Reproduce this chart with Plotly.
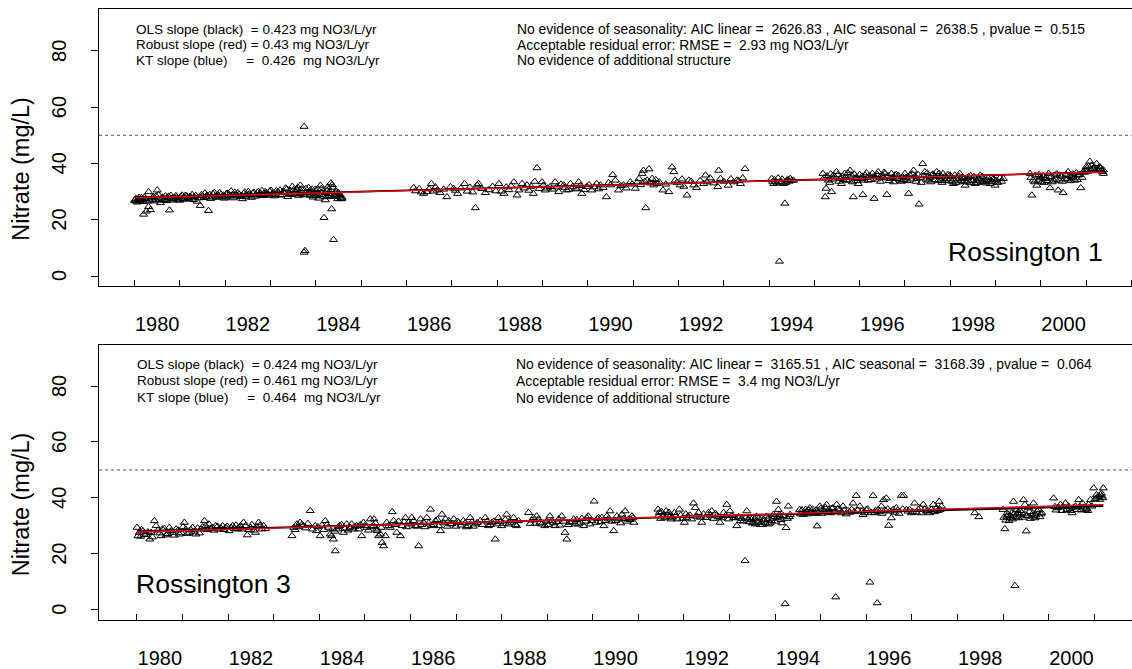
import plotly.graph_objects as go

# ---------------- data (decimal year, nitrate mg/L) ----------------
r1_year = [
 1980.00,1980.03,1980.06,1980.10,1980.13,1980.17,1980.20,1980.22,1980.26,1980.28,1980.31,1980.31,1980.35,1980.38,
 1980.42,1980.46,1980.50,1980.53,1980.57,1980.60,1980.64,1980.68,1980.72,1980.77,1980.80,1980.84,1980.88,1980.93,
 1980.97,1981.02,1981.07,1981.12,1981.17,1981.22,1981.27,1981.32,1981.38,1981.45,1981.50,1981.55,1981.60,1981.63,
 1981.68,1981.73,1981.78,1981.83,1981.88,1981.93,1981.98,1982.03,1982.08,1982.13,1982.18,1982.23,1982.28,1982.33,
 1982.38,1982.43,1982.48,1982.53,1982.58,1982.63,1982.68,1982.73,1982.78,1982.83,1982.88,1982.93,1982.98,1983.03,
 1983.08,1983.13,1983.18,1983.23,1983.28,1983.33,1983.38,1983.43,1983.48,1983.53,1983.58,1983.62,1983.66,1983.70,
 1983.74,1983.74,1983.76,1983.78,1983.82,1983.86,1983.90,1983.94,1983.98,1984.02,1984.06,1984.10,1984.14,1984.18,
 1984.21,1984.24,1984.27,1984.30,1984.33,1984.35,1984.37,1984.39,1984.41,1984.44,1984.48,1984.52,1984.55,1984.58,
 1986.16,1986.38,1986.45,1986.55,1986.60,1986.68,1986.89,1986.97,1987.04,1987.13,1987.28,1987.34,1987.52,1987.56,
 1987.59,1987.74,1988.04,1988.09,1988.15,1988.37,1988.44,1988.48,1988.55,1988.66,1988.80,1988.83,1988.88,1988.99,
 1989.06,1989.17,1989.28,1989.36,1989.47,1989.54,1989.62,1989.73,1989.80,1989.87,1989.98,1990.09,1990.20,1990.28,
 1990.41,1990.50,1990.55,1990.61,1990.68,1990.79,1990.94,1991.05,1991.13,1991.20,1991.23,1991.28,1991.31,1991.35,
 1991.42,1991.46,1991.53,1991.66,1991.79,1991.86,1991.90,1991.93,1992.04,1992.19,1992.23,1992.34,1992.56,1992.60,
 1992.63,1992.87,1992.89,1992.93,1993.22,1993.29,1993.37,1993.47,
 1994.06,1994.10,1994.14,1994.23,1994.32,1994.35,1994.39,1994.47,1994.54,
 1995.19,1995.24,1995.26,1995.31,1995.38,1995.42,1995.49,1995.57,1995.60,1995.67,1995.71,1995.79,1995.86,1995.90,
 1995.97,1996.07,1996.12,1996.19,1996.32,1996.34,1996.41,1996.49,1996.56,1996.60,1996.67,1996.78,1996.89,1997.00,
 1997.08,1997.11,1997.19,1997.26,1997.31,1997.39,1997.44,1997.52,1997.59,1997.70,1997.77,1997.84,1997.92,1997.99,
 1998.07,1998.14,1998.21,1998.29,1998.33,1998.40,1998.47,1998.55,1998.62,1998.66,1998.73,1998.80,1998.88,1998.95,
 1998.99,1999.02,1999.17,
 1999.76,1999.80,1999.83,1999.91,1999.98,2000.02,2000.09,2000.17,2000.20,2000.28,2000.38,2000.42,2000.49,2000.53,
 2000.60,2000.67,2000.75,2000.82,2000.88,2000.93,2001.00,2001.08,2001.12,2001.15,2001.23,2001.26,2001.30,2001.34,
 2001.38,
 # further samples
 1980.01,1980.04,1980.08,1980.11,1980.15,1980.18,1980.24,1980.33,1980.40,1980.44,1980.48,1980.55,1980.62,1980.66,
 1980.70,1980.75,1980.82,1980.86,1980.91,1980.95,1981.00,1981.05,1981.10,1981.15,1981.20,1981.25,1981.30,1981.35,
 1981.42,1981.48,1981.53,1981.58,1981.66,1981.71,1981.76,1981.81,1981.86,1981.91,1981.96,1982.01,1982.06,1982.11,
 1982.16,1982.21,1982.26,1982.31,1982.36,1982.41,1982.46,1982.51,1982.56,1982.61,1982.66,1982.71,1982.76,1982.81,
 1982.86,1982.91,1982.96,1983.01,1983.06,1983.11,1983.16,1983.21,1983.26,1983.31,1983.36,1983.41,1983.46,1983.51,
 1983.56,1983.60,1983.64,1983.68,1983.72,1983.80,1983.84,1983.88,1983.92,1983.96,1984.00,1984.04,1984.08,1984.12,
 1984.16,1984.20,1984.23,1984.26,1984.29,1984.32,1984.36,1984.40,1984.43,1984.46,1984.50,1984.54,1984.57,
 1986.20,1986.28,1986.33,1986.50,1986.64,1986.74,1986.82,1987.08,1987.20,1987.40,1987.46,1987.66,1987.82,1987.90,
 1987.97,1988.20,1988.26,1988.31,1988.60,1988.70,1988.75,1988.93,1989.02,1989.11,1989.22,1989.32,1989.41,1989.50,
 1989.58,1989.67,1989.76,1989.84,1989.92,1990.03,1990.14,1990.24,1990.34,1990.46,1990.73,1990.85,1990.98,1991.09,
 1991.17,1991.26,1991.38,1991.50,1991.58,1991.72,1991.97,1992.08,1992.12,1992.28,1992.40,1992.48,1992.70,1992.78,
 1993.00,1993.10,1993.16,1993.33,1993.42,
 1994.08,1994.12,1994.18,1994.20,1994.26,1994.29,1994.37,1994.42,1994.44,1994.50,
 1995.21,1995.28,1995.34,1995.36,1995.40,1995.45,1995.52,1995.54,1995.62,1995.64,1995.69,1995.74,1995.76,1995.82,
 1995.84,1995.88,1995.93,1995.95,1996.00,1996.03,1996.05,1996.10,1996.15,1996.17,1996.22,1996.25,1996.28,1996.30,
 1996.37,1996.39,1996.44,1996.46,1996.52,1996.54,1996.63,1996.65,1996.70,1996.73,1996.75,1996.81,1996.84,1996.86,
 1996.92,1996.95,1996.97,1997.03,1997.05,1997.14,1997.16,1997.22,1997.24,1997.29,1997.34,1997.36,1997.42,1997.47,
 1997.49,1997.55,1997.57,1997.62,1997.65,1997.67,1997.73,1997.75,1997.80,1997.82,1997.87,1997.89,1997.95,1997.97,
 1998.02,1998.04,1998.10,1998.12,1998.17,1998.19,1998.24,1998.26,1998.31,1998.36,1998.38,1998.43,1998.45,1998.50,
 1998.52,1998.58,1998.60,1998.64,1998.69,1998.71,1998.76,1998.78,1998.84,1998.86,1998.91,1998.93,1998.97,1999.05,
 1999.10,1999.13,
 1999.78,1999.86,1999.88,1999.94,1999.96,2000.00,2000.05,2000.07,2000.12,2000.14,2000.22,2000.25,2000.31,2000.33,
 2000.35,2000.40,2000.45,2000.47,2000.56,2000.58,2000.63,2000.65,2000.70,2000.72,2000.78,2000.80,2000.85,2000.91,
 2000.96,2000.98,2001.03,2001.05,2001.10,2001.18,2001.20,2001.28,2001.32,2001.36,2001.38]
r1_no3 = [
 26.8,27.5,26.2,27.9,26.9,27.2,21.9,28.0,23.0,26.5,24.6,29.9,23.5,27.3,
 28.2,27.0,30.5,28.8,26.0,27.6,26.8,28.4,27.9,23.4,28.6,27.3,27.8,28.1,
 27.0,28.3,27.5,28.6,27.8,28.2,28.9,28.0,26.5,25.0,28.5,29.4,28.7,23.2,
 27.5,29.2,28.3,28.8,29.6,28.1,27.6,29.3,28.6,30.2,27.7,28.8,29.5,28.2,
 27.4,29.8,28.7,29.1,27.9,29.7,28.9,30.0,29.3,28.5,29.9,29.2,30.1,29.0,
 28.4,30.3,29.6,28.7,29.9,31.2,28.2,30.4,31.8,29.1,30.8,28.6,32.2,29.5,
 53.1,8.4,9.0,31.0,28.9,30.2,29.4,28.0,30.7,29.1,27.6,32.2,29.8,20.7,
 27.0,30.5,28.4,29.9,33.0,23.8,31.5,12.9,28.9,30.3,27.4,28.8,27.5,27.9,
 31.4,29.3,29.9,32.8,30.1,30.5,28.1,31.7,31.1,29.3,32.8,30.1,24.2,32.3,
 32.8,29.6,32.8,30.1,29.3,33.4,28.7,30.5,32.8,32.3,29.3,33.6,38.4,33.4,
 30.5,31.7,33.4,29.9,32.3,30.5,32.8,31.1,33.4,29.3,31.7,30.5,32.8,32.3,
 28.1,32.3,36.0,34.0,30.5,32.3,33.4,31.1,34.6,36.4,37.5,24.2,34.0,38.0,
 34.6,32.3,32.8,30.5,29.9,38.7,37.0,34.0,32.3,28.7,34.0,32.3,32.8,35.8,
 33.4,31.7,37.5,34.6,33.4,34.0,32.8,38.1,
 34.6,32.8,33.4,5.2,32.8,25.8,34.0,34.6,34.0,
 36.4,28.1,31.1,34.0,29.9,35.8,37.0,34.6,32.8,36.4,34.0,37.5,28.1,34.6,
 32.8,28.9,35.8,34.0,27.5,35.2,37.0,35.8,36.4,28.9,34.6,35.8,34.0,36.4,
 29.3,35.8,37.5,34.6,25.5,39.9,37.0,34.0,35.8,37.0,35.2,36.4,34.6,35.8,
 32.8,34.6,36.4,33.4,32.2,35.2,34.0,32.8,34.6,35.8,33.4,34.0,32.8,34.6,
 32.2,34.0,34.6,
 36.4,28.7,34.0,32.2,35.2,33.4,34.6,36.4,31.3,34.0,30.5,35.8,29.6,34.6,
 37.0,35.2,34.0,35.8,31.3,37.0,38.8,40.7,39.3,38.1,39.9,37.5,38.8,37.5,
 36.4,
 # further samples
 27.0,26.5,27.3,26.7,27.8,26.4,27.4,26.9,27.9,26.6,28.4,27.2,28.0,27.1,
 26.7,28.3,27.5,26.9,28.5,27.6,26.9,28.7,27.2,28.4,27.4,28.0,27.1,28.6,
 27.7,28.9,27.8,28.2,28.9,28.0,29.6,27.9,28.4,29.0,28.7,28.0,29.4,28.3,
 28.9,29.7,28.4,29.0,28.6,29.3,28.1,30.0,28.8,29.4,28.3,29.6,28.7,30.3,
 28.9,29.5,28.6,30.4,29.4,28.8,29.9,30.5,28.9,29.6,30.9,29.3,28.9,30.6,
 29.8,31.5,29.2,30.9,28.8,29.7,31.4,28.6,30.8,29.5,28.5,30.9,28.9,31.0,
 28.3,29.6,28.1,31.6,29.2,28.6,32.4,28.2,29.5,28.6,29.6,28.4,27.4,
 30.2,31.0,29.8,30.9,31.6,29.6,30.8,30.4,31.2,31.5,29.8,31.0,30.6,31.8,
 30.2,31.6,30.6,32.0,31.2,30.4,31.8,31.0,32.2,31.2,30.8,31.6,32.6,31.4,
 30.7,31.8,30.9,32.1,30.6,32.4,31.6,30.9,31.4,33.1,32.0,31.2,32.6,33.2,
 32.4,33.6,33.0,34.2,33.4,32.6,33.2,34.4,31.8,33.6,31.4,33.9,34.8,33.0,
 33.6,32.2,34.5,33.8,34.8,
 33.6,34.2,33.0,34.8,33.4,34.4,33.2,34.2,33.6,33.9,
 34.8,35.6,33.2,36.2,34.4,35.2,36.0,33.6,35.4,34.2,35.0,36.6,34.0,35.8,
 33.4,36.2,35.0,33.8,36.0,34.6,35.4,34.0,36.6,35.0,35.6,34.2,36.4,35.2,
 34.4,36.0,35.0,33.6,34.8,36.8,35.6,33.8,36.4,35.0,33.4,36.0,34.6,35.6,
 33.6,35.2,34.2,35.0,33.8,34.4,36.2,35.4,33.6,36.0,35.0,33.2,35.6,34.4,
 36.6,35.0,33.4,36.2,34.2,35.4,33.8,36.4,34.4,33.2,35.2,33.8,36.0,34.0,
 35.4,33.6,35.8,33.2,34.0,35.4,33.8,35.0,34.6,33.6,34.8,33.2,35.6,33.8,
 35.2,34.0,33.2,34.6,33.6,35.2,34.0,33.0,34.8,33.6,35.0,33.4,34.2,33.2,
 34.8,33.6,
 35.0,33.4,35.8,34.0,36.0,34.8,35.6,33.2,35.0,33.8,35.2,33.4,35.8,34.4,
 36.2,34.0,35.4,33.6,36.0,34.4,35.6,33.8,36.2,34.8,36.6,34.2,36.0,35.0,
 36.8,37.8,37.2,39.0,37.8,38.6,37.4,37.8,38.2,37.0,37.6]

r3_year = [
 1980.00,1980.02,1980.13,1980.20,1980.28,1980.31,1980.38,1980.42,1980.50,1980.56,1980.64,1980.71,1980.78,1980.86,
 1980.93,1981.04,1981.07,1981.15,1981.22,1981.29,1981.40,1981.48,1981.51,1981.58,1981.66,1981.73,1981.80,1981.88,
 1981.95,1982.02,1982.10,1982.20,1982.27,1982.34,1982.42,1982.49,1982.60,1982.67,1982.74,1982.78,
 1983.40,1983.44,1983.51,1983.58,1983.65,1983.80,1983.91,1983.94,1984.02,1984.13,1984.20,1984.24,1984.27,1984.31,
 1984.35,1984.38,1984.45,1984.53,1984.60,1984.67,1984.75,1984.82,1984.93,1984.97,1985.04,1985.12,1985.19,1985.20,
 1985.26,1985.27,1985.30,1985.34,1985.38,1985.41,1985.45,1985.52,1985.60,1985.63,1985.70,1985.78,1985.82,1985.89,
 1985.96,1986.03,1986.11,1986.18,1986.22,1986.29,1986.36,1986.44,1986.47,1986.55,1986.66,1986.69,1986.77,1986.88,
 1986.95,1987.06,1987.16,1987.27,1987.31,1987.42,1987.53,1987.64,1987.71,1987.79,1987.86,1987.93,1988.00,1988.11,
 1988.18,1988.26,1988.33,1988.59,1988.70,1988.77,1988.84,1988.95,1989.06,1989.17,1989.25,1989.32,1989.39,1989.43,
 1989.50,1989.58,1989.69,1989.80,1989.90,1989.94,1990.03,1990.13,1990.24,1990.31,1990.38,1990.46,1990.53,1990.64,
 1990.71,1990.79,1990.86,1990.90,
 1991.43,1991.46,1991.53,1991.61,1991.72,1991.79,1991.90,1992.01,1992.09,1992.21,1992.25,1992.32,1992.39,1992.47,
 1992.54,1992.61,1992.72,1992.79,1992.87,1992.94,1993.01,1993.09,1993.16,1993.34,1993.38,1993.41,1993.45,1993.52,
 1993.59,1993.67,1993.74,1993.81,1993.89,1993.96,1994.03,1994.07,1994.11,1994.15,1994.22,1994.24,1994.29,1994.33,
 1994.54,1994.62,1994.69,1994.76,1994.84,1994.92,1994.98,1995.05,1995.13,1995.20,1995.27,1995.33,1995.35,1995.42,
 1995.49,1995.71,1995.78,1995.86,1995.93,1996.00,1996.08,1996.15,1996.18,1996.24,1996.26,1996.33,1996.38,1996.44,
 1996.49,1996.55,1996.59,1996.66,1996.77,1996.82,1996.88,1996.99,1997.06,1997.14,1997.25,1997.32,1997.39,1997.47,
 1997.54,1997.60,1997.65,
 1998.38,1998.47,
 1999.00,1999.04,1999.08,1999.11,1999.15,1999.19,1999.23,1999.26,1999.30,1999.34,1999.41,1999.45,1999.48,1999.51,
 1999.56,1999.63,1999.67,1999.70,1999.78,1999.85,
 2000.11,2000.19,2000.26,2000.37,2000.44,2000.52,2000.59,2000.66,2000.74,2000.81,2000.88,2000.92,2000.99,2001.05,
 2001.10,2001.14,2001.17,2001.20,
 # further samples
 1980.05,1980.08,1980.10,1980.16,1980.24,1980.34,1980.46,1980.53,1980.60,1980.68,1980.75,1980.82,1980.90,1980.97,
 1981.01,1981.10,1981.18,1981.26,1981.33,1981.37,1981.44,1981.55,1981.62,1981.69,1981.77,1981.84,1981.91,1981.98,
 1982.06,1982.14,1982.17,1982.24,1982.31,1982.38,1982.45,1982.52,1982.56,1982.63,1982.70,1982.82,
 1983.47,1983.54,1983.62,1983.70,1983.75,1983.85,1983.97,1984.06,1984.10,1984.17,1984.29,1984.34,1984.42,1984.49,
 1984.56,1984.63,1984.71,1984.78,1984.86,1984.90,1985.00,1985.08,1985.15,1985.23,1985.36,1985.48,1985.56,1985.66,
 1985.74,1985.86,1985.92,1986.00,1986.07,1986.14,1986.25,1986.32,1986.40,1986.51,1986.59,1986.62,1986.73,1986.81,
 1986.84,1986.91,1987.00,1987.03,1987.11,1987.20,1987.23,1987.35,1987.38,1987.47,1987.58,1987.68,1987.75,1987.83,
 1987.90,1987.97,1988.04,1988.08,1988.15,1988.22,1988.30,1988.37,1988.63,1988.66,1988.74,1988.81,1988.88,1988.99,
 1989.02,1989.10,1989.14,1989.21,1989.28,1989.36,1989.46,1989.54,1989.62,1989.65,1989.73,1989.76,1989.84,1989.87,
 1989.98,1990.07,1990.10,1990.17,1990.20,1990.27,1990.34,1990.42,1990.50,1990.57,1990.61,1990.68,1990.75,1990.82,
 1990.88,
 1991.44,1991.49,1991.51,1991.56,1991.58,1991.64,1991.67,1991.70,1991.75,1991.82,1991.86,1991.93,1991.97,1992.04,
 1992.06,1992.13,1992.17,1992.28,1992.36,1992.43,1992.50,1992.58,1992.65,1992.69,1992.76,1992.83,1992.91,1992.98,
 1993.05,1993.13,1993.20,1993.24,1993.27,1993.30,1993.36,1993.43,1993.48,1993.50,1993.55,1993.57,1993.62,1993.64,
 1993.70,1993.72,1993.77,1993.79,1993.84,1993.86,1993.92,1993.94,1993.99,1994.01,1994.05,1994.09,1994.13,1994.18,
 1994.27,1994.31,
 1994.56,1994.59,1994.65,1994.67,1994.72,1994.74,1994.80,1994.82,1994.88,1994.90,1994.95,1995.00,1995.03,1995.08,
 1995.10,1995.16,1995.18,1995.23,1995.25,1995.30,1995.38,1995.45,1995.52,1995.56,1995.60,1995.64,1995.68,1995.74,
 1995.81,1995.90,1995.97,1996.03,1996.11,1996.20,1996.29,1996.35,1996.41,1996.47,1996.52,1996.62,1996.69,1996.72,
 1996.80,1996.92,1996.95,1997.02,1997.10,1997.18,1997.21,1997.28,1997.35,1997.43,1997.50,1997.57,1997.62,
 1999.02,1999.06,1999.09,1999.13,1999.17,1999.21,1999.24,1999.28,1999.32,1999.36,1999.38,1999.43,1999.47,1999.53,
 1999.58,1999.60,1999.65,1999.72,1999.75,1999.81,1999.83,
 2000.14,2000.16,2000.22,2000.29,2000.32,2000.40,2000.47,2000.49,2000.55,2000.62,2000.69,2000.71,2000.77,2000.84,
 2000.86,2000.95,2001.02,2001.07,2001.12,2001.16,2001.19]
r3_no3 = [
 29.4,26.4,28.2,27.0,25.2,27.6,31.8,30.0,27.4,28.8,26.7,29.4,27.6,28.8,
 27.0,31.2,28.8,27.6,29.4,27.0,28.8,31.8,30.0,30.6,29.4,30.0,28.8,30.0,
 29.4,28.2,30.0,28.8,30.0,31.2,26.7,29.4,27.6,31.2,28.8,30.0,
 26.4,29.4,30.6,31.2,30.0,35.4,30.0,28.2,26.4,31.8,29.4,27.0,26.4,25.2,
 21.0,28.8,30.0,27.6,30.6,29.4,28.8,30.0,26.4,31.2,29.4,32.4,30.0,32.4,
 28.8,28.2,26.4,27.0,24.0,22.8,26.4,30.0,35.0,31.8,27.6,26.4,30.0,32.9,
 31.2,32.9,30.0,22.8,32.4,31.2,32.9,35.9,30.0,31.8,28.2,34.1,32.4,30.6,
 32.4,31.2,31.8,30.0,32.9,30.6,31.8,32.9,30.0,31.2,25.2,32.9,30.0,34.1,
 31.8,32.9,30.0,34.7,32.9,33.5,31.2,30.0,33.5,30.0,32.4,33.5,27.6,25.2,
 31.2,32.4,30.6,30.0,33.5,30.6,38.8,32.9,30.0,33.5,35.3,28.2,33.5,34.1,
 35.3,32.4,33.5,31.2,
 35.9,34.7,33.5,35.3,32.4,34.7,35.9,31.2,33.5,38.1,36.5,34.7,31.2,32.9,
 34.7,35.3,33.5,31.2,34.7,37.6,35.3,32.9,30.0,17.5,35.3,32.4,32.9,31.0,
 33.4,30.4,32.2,33.4,31.0,34.0,38.7,35.8,33.4,31.0,2.1,29.3,37.0,34.0,
 35.8,34.0,35.2,36.4,34.6,29.9,37.0,35.8,37.6,35.2,36.4,4.5,37.6,35.8,
 37.0,38.1,40.8,37.0,34.0,35.8,9.8,40.8,34.6,2.4,35.8,37.0,39.3,39.9,
 30.1,32.8,35.8,36.4,40.8,40.8,35.8,34.6,38.1,35.8,37.6,35.2,34.6,37.6,
 36.4,38.7,37.0,
 34.6,33.2,
 35.8,28.9,33.4,34.0,32.8,34.6,38.7,8.6,35.8,32.8,34.6,39.3,37.6,28.1,
 36.4,33.4,38.1,32.8,35.8,34.6,
 39.9,36.4,37.6,38.1,37.0,34.6,37.0,39.3,38.1,35.8,37.6,39.3,43.5,41.1,
 40.6,41.1,40.6,43.5,
 # further samples
 27.6,26.2,28.6,26.8,27.8,26.0,28.4,26.4,29.0,27.2,28.2,26.6,28.4,27.6,
 29.6,27.2,28.6,28.0,29.2,27.4,29.6,28.6,29.0,28.4,29.8,29.2,28.6,29.8,
 29.4,29.0,30.2,29.4,28.8,30.0,28.6,30.4,28.4,29.6,30.2,29.0,
 28.6,29.6,30.4,29.2,30.8,28.8,29.6,30.2,28.6,30.4,29.0,28.0,29.6,30.4,
 29.0,28.4,30.6,29.6,28.8,30.4,30.0,28.4,29.6,31.0,29.4,31.2,29.4,30.4,
 31.6,31.4,29.6,30.6,31.8,29.8,30.4,29.6,31.0,30.4,32.2,30.0,31.0,29.8,
 31.8,30.8,29.8,31.6,30.2,31.0,29.6,31.4,29.8,31.2,30.4,31.6,30.4,31.6,
 30.6,31.4,30.8,32.2,30.6,31.2,30.4,31.8,30.8,32.0,30.8,32.4,30.6,31.6,
 30.4,31.8,31.0,31.4,30.2,31.6,30.4,31.4,30.6,32.2,31.2,32.6,31.6,32.8,
 31.8,31.2,32.6,31.4,33.0,31.8,32.4,31.6,31.8,32.4,31.0,32.6,31.6,32.2,
 32.8,
 33.6,32.6,35.0,34.0,32.8,33.8,34.8,33.4,33.0,33.6,32.4,33.8,32.6,34.2,
 32.8,33.8,32.4,33.4,33.0,34.2,33.0,33.8,32.6,34.4,33.2,32.8,33.6,32.4,
 33.6,32.8,33.2,31.8,32.6,31.6,33.0,31.4,32.2,31.0,32.4,30.6,31.6,32.8,
 31.2,30.4,32.0,31.0,32.4,30.6,31.8,32.6,33.2,31.6,32.8,34.0,32.2,33.6,
 32.6,33.2,
 34.2,35.6,34.6,35.8,34.2,35.6,34.8,36.0,34.4,35.6,34.8,36.2,34.4,35.2,
 36.6,34.8,35.8,34.6,36.2,35.0,36.0,34.6,35.6,34.2,35.4,34.8,35.8,35.0,
 35.6,35.2,34.6,36.0,34.8,35.4,35.0,34.4,35.6,36.0,35.2,34.8,35.6,34.4,
 36.0,35.2,35.8,35.0,34.8,36.4,34.6,36.0,35.4,35.8,35.0,35.4,35.8,
 33.0,32.0,34.6,31.8,33.6,32.4,34.2,33.2,34.6,33.8,35.4,33.0,34.2,33.6,
 35.0,32.6,34.4,33.8,35.2,33.2,34.2,
 36.8,35.6,36.6,35.4,36.8,35.8,36.2,35.4,36.6,35.8,36.8,35.6,36.6,36.2,
 35.4,37.0,39.6,40.2,39.4,41.6,40.0]

# fitted trend lines: value at start of record and slope (mg/L per yr)
r1_span = [1980.0, 2001.38]
r1_fit = {"ols": (27.9, 0.423), "robust": (27.75, 0.43), "kt": (27.8, 0.426)}
r3_span = [1980.0, 2001.2]
r3_fit = {"ols": (28.1, 0.424), "robust": (27.8, 0.461), "kt": (27.78, 0.464)}

limit = 50
year_ticks = list(range(1980, 2003))
label_years = list(range(1980, 2001, 2))
y_ticks = [0, 20, 40, 60, 80]

r1_text_left = ["OLS slope (black)  = 0.423 mg NO3/L/yr",
                "Robust slope (red) = 0.43 mg NO3/L/yr",
                "KT slope (blue)     =  0.426  mg NO3/L/yr"]
r1_text_right = ["No evidence of seasonality: AIC linear =  2626.83 , AIC seasonal =  2638.5 , pvalue =  0.515",
                 "Acceptable residual error: RMSE =  2.93 mg NO3/L/yr",
                 "No evidence of additional structure"]
r3_text_left = ["OLS slope (black)  = 0.424 mg NO3/L/yr",
                "Robust slope (red) = 0.461 mg NO3/L/yr",
                "KT slope (blue)     =  0.464  mg NO3/L/yr"]
r3_text_right = ["No evidence of seasonality: AIC linear =  3165.51 , AIC seasonal =  3168.39 , pvalue =  0.064",
                 "Acceptable residual error: RMSE =  3.4 mg NO3/L/yr",
                 "No evidence of additional structure"]

FONT = "Liberation Sans, Arial, sans-serif"

fig = go.Figure()

def add_panel(xs, ys, span, fit, xa, ya):
    fig.add_trace(go.Scatter(x=xs, y=ys, mode="markers", xaxis=xa, yaxis=ya,
                             marker=dict(symbol="triangle-up-open", size=7, color="black",
                                         line=dict(width=1, color="black")),
                             hoverinfo="skip"))
    for key, col, w in [("kt", "blue", 0.8), ("ols", "black", 1.8), ("robust", "red", 1.3)]:
        a, b = fit[key]
        fig.add_trace(go.Scatter(x=span, y=[a, a + b * (span[1] - span[0])], mode="lines",
                                 xaxis=xa, yaxis=ya, line=dict(color=col, width=w),
                                 hoverinfo="skip"))

add_panel(r1_year, r1_no3, r1_span, r1_fit, "x", "y")
add_panel(r3_year, r3_no3, r3_span, r3_fit, "x2", "y2")

def xaxis_cfg(rng, anchor):
    return dict(range=rng, anchor=anchor, domain=[0, 1],
                tickmode="array", tickvals=[yv + 0.5 for yv in label_years],
                ticktext=[str(yv) for yv in label_years], ticks="",
                ticklabelstandoff=20,
                tickfont=dict(size=20, color="black", family=FONT),
                minor=dict(tickmode="array", tickvals=year_ticks, ticks="inside",
                           ticklen=6, tickwidth=1, tickcolor="black", showgrid=False),
                showline=True, mirror=True, linecolor="black", linewidth=1,
                showgrid=False, zeroline=False, fixedrange=True)

def yaxis_cfg(rng, dom, anchor):
    return dict(range=rng, domain=dom, anchor=anchor,
                tickmode="array", tickvals=y_ticks, showticklabels=False,
                ticks="outside", ticklen=7, tickwidth=1, tickcolor="black",
                showline=True, mirror=False, linecolor="black", linewidth=1,
                showgrid=False, zeroline=False, fixedrange=True)

H = 669.0
fig.update_layout(
    width=1132, height=669,
    margin=dict(l=99, r=0, t=0, b=0),
    paper_bgcolor="white", plot_bgcolor="white",
    showlegend=False,
    font=dict(family=FONT, color="black"),
    xaxis=xaxis_cfg([1979.215, 2002.01], "y"),
    yaxis=yaxis_cfg([-3.6, 94.8], [1 - 288.3 / H, 1 - 9.3 / H], "x"),
    xaxis2=xaxis_cfg([1979.167, 2001.83], "y2"),
    yaxis2=yaxis_cfg([-3.8, 94.8], [1 - 625 / H, 1 - 347.3 / H], "x2"),
)

for ya in ["y", "y2"]:
    fig.add_shape(type="line", xref=("x domain" if ya == "y" else "x2 domain"), yref=ya,
                  x0=0, x1=1, y0=limit, y1=limit,
                  line=dict(color="#555555", width=1, dash="dot"))

def nb(s):
    return s.replace(" ", "\u00a0")

ann = []
def add_texts(lines, x, ys, xr, yr, size):
    for t, yv in zip(lines, ys):
        ann.append(dict(text=nb(t), x=x, y=yv, xref=xr, yref=yr, xanchor="left",
                        yanchor="middle", showarrow=False,
                        font=dict(size=size, family=FONT, color="black")))

add_texts(r1_text_left, 1979.99, [87.6, 82.1, 76.7], "x", "y", 13.5)
add_texts(r1_text_right, 1988.385, [87.6, 82.1, 76.7], "x", "y", 13.9)
add_texts(r3_text_left, 1979.95, [87.75, 81.9, 75.9], "x2", "y2", 13.5)
add_texts(r3_text_right, 1988.275, [87.75, 81.9, 75.9], "x2", "y2", 13.9)

# y tick labels (rotated, as in the original)
for ya in ["y", "y2"]:
    for v in y_ticks:
        ann.append(dict(text=str(v), x=(59 - 99) / 1033.0, y=v, xref="paper", yref=ya,
                        textangle=-90, showarrow=False, xanchor="center", yanchor="middle",
                        font=dict(size=20, family=FONT, color="black")))

ann.append(dict(text="Rossington 1", x=1997.90, y=8.5, xref="x", yref="y", xanchor="left",
                yanchor="middle", showarrow=False, font=dict(size=26.5, family=FONT, color="black")))
ann.append(dict(text="Rossington 3", x=1979.93, y=9.2, xref="x2", yref="y2", xanchor="left",
                yanchor="middle", showarrow=False, font=dict(size=26.5, family=FONT, color="black")))

for yc in [170, 508]:
    ann.append(dict(text="Nitrate (mg/L)", x=(21 - 99) / 1033.0, y=1 - yc / H, xref="paper",
                    yref="paper", textangle=-90, showarrow=False, xanchor="center",
                    yanchor="middle", font=dict(size=23.5, family=FONT, color="black")))

fig.update_layout(annotations=ann)
fig.write_html("out.html")
